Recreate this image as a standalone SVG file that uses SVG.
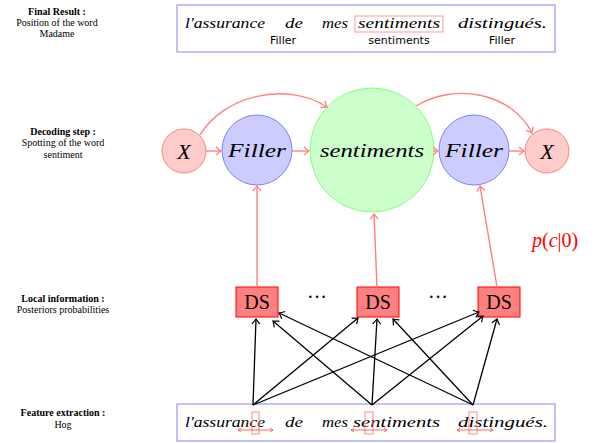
<svg xmlns="http://www.w3.org/2000/svg" width="602" height="443" viewBox="0 0 602 443">
<style>
.lbl{font-family:"Liberation Serif","Times New Roman",serif;font-size:10px;fill:#000;text-anchor:middle}
.lblb{font-family:"Liberation Serif","Times New Roman",serif;font-size:10px;font-weight:bold;fill:#000;text-anchor:middle}
.hw{font-family:"Liberation Serif","Times New Roman",serif;font-style:italic;font-size:15px;fill:#000}
.tag{font-family:"DejaVu Sans",sans-serif;font-size:11px;fill:#000;text-anchor:middle}
.math{font-family:"Liberation Serif","Times New Roman",serif;font-style:italic;fill:#000;text-anchor:middle}
.ds{font-family:"Liberation Serif","Times New Roman",serif;font-size:20px;fill:#000;text-anchor:middle}
.frame{fill:#fff;stroke:#9999ff;stroke-width:1.2}
.xn{fill:#ffcccc;stroke:#ff8080;stroke-width:1}
.fn{fill:#ccccff;stroke:#8080ff;stroke-width:1}
.sn{fill:#ccffcc;stroke:#80ff80;stroke-width:1}
.dsb{fill:#ff8080;stroke:#ff0000;stroke-width:1}
.ra{fill:none;stroke:#ff8080;stroke-width:1.4;marker-end:url(#ah-red)}
.ba{fill:none;stroke:#000;stroke-width:1.3;marker-end:url(#ah-black)}
.sm{fill:none;stroke:#ff8080;stroke-width:0.9}
.da{fill:none;stroke:#ff4040;stroke-width:0.8;marker-start:url(#ah-small-s);marker-end:url(#ah-small)}
</style>
<defs>
<marker id="ah-red" viewBox="-6 -5 8 10" refX="0" refY="0" markerWidth="8" markerHeight="10" markerUnits="userSpaceOnUse" orient="auto">
<path d="M-5,-4 Q-1.5,-1 0,0 Q-1.5,1 -5,4" fill="none" stroke="#ff8080" stroke-width="1.3"/>
</marker>
<marker id="ah-black" viewBox="-6 -5 8 10" refX="0" refY="0" markerWidth="8" markerHeight="10" markerUnits="userSpaceOnUse" orient="auto">
<path d="M-5,-4 Q-1.5,-1 0,0 Q-1.5,1 -5,4" fill="none" stroke="#000" stroke-width="1.2"/>
</marker>
<marker id="ah-small" viewBox="-4 -3 5 6" refX="0" refY="0" markerWidth="5" markerHeight="6" markerUnits="userSpaceOnUse" orient="auto">
<path d="M-3,-2 L0,0 L-3,2" fill="none" stroke="#ff4040" stroke-width="0.8"/>
</marker>
<marker id="ah-small-s" viewBox="-1 -3 5 6" refX="0" refY="0" markerWidth="5" markerHeight="6" markerUnits="userSpaceOnUse" orient="auto">
<path d="M3,-2 L0,0 L3,2" fill="none" stroke="#ff4040" stroke-width="0.8"/>
</marker>
</defs>

<!-- left-side labels -->
<g id="label-final">
<text class="lblb" x="57" y="15">Final Result :</text>
<text class="lbl" x="57" y="26">Position of the word</text>
<text class="lbl" x="57" y="37">Madame</text>
</g>
<g id="label-decoding">
<text class="lblb" x="63" y="135">Decoding step :</text>
<text class="lbl" x="63" y="146">Spotting of the word</text>
<text class="lbl" x="63" y="158">sentiment</text>
</g>
<g id="label-local">
<text class="lblb" x="63" y="302">Local information :</text>
<text class="lbl" x="63" y="313">Posteriors probabilities</text>
</g>
<g id="label-feature">
<text class="lblb" x="63" y="416">Feature extraction :</text>
<text class="lbl" x="63" y="428">Hog</text>
</g>

<!-- top result box -->
<g id="result">
<rect class="frame" x="177" y="5" width="378" height="47"/>
<text class="hw" x="185" y="28" textLength="80" lengthAdjust="spacingAndGlyphs">l'assurance</text>
<text class="hw" x="285" y="28" textLength="18" lengthAdjust="spacingAndGlyphs">de</text>
<text class="hw" x="322" y="28" textLength="26" lengthAdjust="spacingAndGlyphs">mes</text>
<text class="hw" x="358" y="28" textLength="82" lengthAdjust="spacingAndGlyphs">sentiments</text>
<text class="hw" x="458" y="28" textLength="89" lengthAdjust="spacingAndGlyphs">distingués.</text>
<rect x="355" y="16" width="88" height="16" fill="none" stroke="#ff9999" stroke-width="1"/>
<text class="tag" x="283" y="44">Filler</text>
<text class="tag" x="399" y="44">sentiments</text>
<text class="tag" x="502" y="44">Filler</text>
</g>

<!-- decoding nodes -->
<g id="x-left"><circle class="xn" cx="184" cy="151" r="22"/><text class="math" x="184" y="159" font-size="22">X</text></g>
<g id="filler-1"><circle class="fn" cx="257" cy="150" r="35"/><text class="math" x="257" y="157" font-size="19" textLength="58" lengthAdjust="spacingAndGlyphs">Filler</text></g>
<g id="sentiments"><circle class="sn" cx="372" cy="150" r="62"/><text class="math" x="372" y="157" font-size="19" textLength="104" lengthAdjust="spacingAndGlyphs">sentiments</text></g>
<g id="filler-2"><circle class="fn" cx="474" cy="150" r="35"/><text class="math" x="474" y="157" font-size="19" textLength="58" lengthAdjust="spacingAndGlyphs">Filler</text></g>
<g id="x-right"><circle class="xn" cx="547" cy="151" r="22"/><text class="math" x="547" y="159" font-size="22">X</text></g>

<g id="prob">
<text x="532" y="247" font-family="Liberation Serif, Times New Roman, serif" font-size="20" fill="#ff0000"><tspan font-style="italic">p</tspan>(<tspan font-style="italic">c</tspan>|0)</text>
</g>

<!-- DS nodes -->
<g id="ds-1"><rect class="dsb" x="236" y="287" width="42" height="30"/><text class="ds" x="257" y="309">DS</text></g>
<g id="ds-2"><rect class="dsb" x="357" y="287" width="42" height="30"/><text class="ds" x="378" y="309">DS</text></g>
<g id="ds-3"><rect class="dsb" x="478" y="287" width="42" height="30"/><text class="ds" x="499" y="309">DS</text></g>
<g id="dots">
<text class="ds" x="317" y="304" font-size="14">···</text>
<text class="ds" x="438" y="304" font-size="14">···</text>
</g>

<!-- bottom feature box -->
<g id="features">
<rect class="frame" x="177" y="404" width="378" height="37"/>
<text class="hw" x="185" y="427" textLength="80" lengthAdjust="spacingAndGlyphs">l'assurance</text>
<text class="hw" x="285" y="427" textLength="18" lengthAdjust="spacingAndGlyphs">de</text>
<text class="hw" x="322" y="427" textLength="26" lengthAdjust="spacingAndGlyphs">mes</text>
<text class="hw" x="353" y="427" textLength="87" lengthAdjust="spacingAndGlyphs">sentiments</text>
<text class="hw" x="458" y="427" textLength="90" lengthAdjust="spacingAndGlyphs">distingués.</text>
<rect class="sm" x="252" y="412" width="7" height="22"/>
<rect class="sm" x="365" y="412" width="8" height="22"/>
<rect class="sm" x="469" y="412" width="8" height="22"/>
<line class="da" x1="238" y1="430" x2="273" y2="430"/>
<line class="da" x1="351" y1="430" x2="387" y2="430"/>
<line class="da" x1="457" y1="430" x2="493" y2="430"/>
</g>

<!-- connectors -->
<g id="connectors">
<line class="ra" x1="206" y1="151" x2="221" y2="151"/>
<line class="ra" x1="292" y1="151" x2="309" y2="151"/>
<line class="ra" x1="433" y1="151" x2="438" y2="151"/>
<line class="ra" x1="509" y1="151" x2="524" y2="151"/>
<path class="ra" d="M200,135 C222,97 285,80 327,107"/>
<path class="ra" d="M416,106 C455,82 512,93 532,133"/>
<line class="ra" x1="257" y1="287" x2="257" y2="186"/>
<line class="ra" x1="377" y1="287" x2="374" y2="214"/>
<line class="ra" x1="497" y1="287" x2="480" y2="186"/>

<line class="ba" x1="253" y1="405" x2="256" y2="319"/>
<line class="ba" x1="372" y1="405" x2="273" y2="321"/>
<line class="ba" x1="473" y1="405" x2="279" y2="313"/>
<line class="ba" x1="253" y1="405" x2="358" y2="318"/>
<line class="ba" x1="372" y1="405" x2="377" y2="319"/>
<line class="ba" x1="473" y1="405" x2="393" y2="319"/>
<line class="ba" x1="253" y1="405" x2="479" y2="312"/>
<line class="ba" x1="372" y1="405" x2="483" y2="316"/>
<line class="ba" x1="473" y1="405" x2="497" y2="319"/>
</g>
</svg>
